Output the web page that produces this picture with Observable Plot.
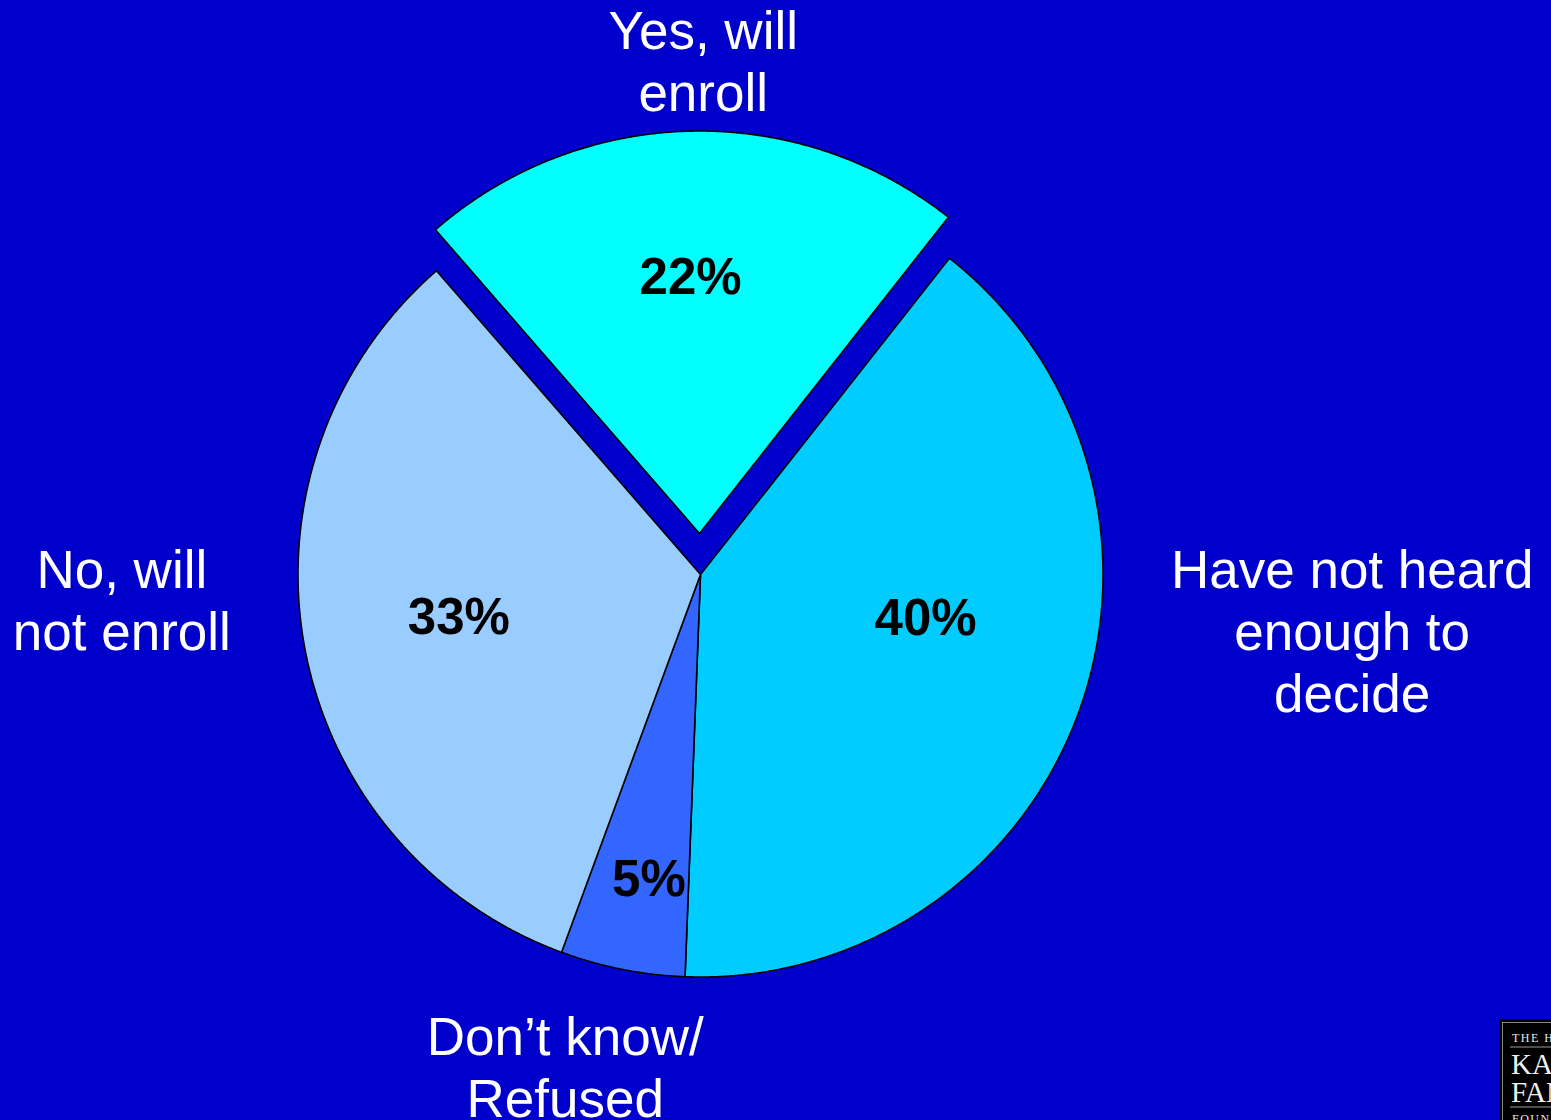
<!DOCTYPE html>
<html>
<head>
<meta charset="utf-8">
<script src="https://cdn.jsdelivr.net/npm/d3@7"></script>
<script src="https://cdn.jsdelivr.net/npm/@observablehq/plot@0.6"></script>
<style>
  html, body { margin: 0; padding: 0; background: #0000CC; overflow: hidden; width: 1551px; height: 1120px; }
  #chart { position: absolute; left: 0; top: 0; }
  #logo { position: absolute; left: 1499px; top: 1019px; width: 150px; height: 140px; overflow: hidden; }
</style>
</head>
<body>
<div id="chart"></div>
<div id="logo">
  <svg width="150" height="140" xmlns="http://www.w3.org/2000/svg">
    <rect x="0" y="0" width="150" height="140" fill="#000"/>
    <rect x="3.5" y="3.5" width="160" height="160" fill="none" stroke="#8a8a8a" stroke-width="1"/>
    <text x="13" y="23" fill="#e8e8e8" font-family="Liberation Serif, serif" font-size="12" letter-spacing="1.5">THE HENRY J.</text>
    <line x1="11" x2="150" y1="28" y2="28" stroke="#9a9a9a" stroke-width="1"/>
    <text x="12" y="55" fill="#f0f0f0" font-family="Liberation Serif, serif" font-size="29">KAISER</text>
    <text x="12" y="83" fill="#f0f0f0" font-family="Liberation Serif, serif" font-size="29">FAMILY</text>
    <line x1="11" x2="150" y1="88" y2="88" stroke="#9a9a9a" stroke-width="1"/>
    <text x="13" y="104" fill="#e8e8e8" font-family="Liberation Serif, serif" font-size="12" letter-spacing="1.5">FOUNDATION</text>
  </svg>
</div>
<script>
// ---------- data ----------
const categories = ["Yes, will\nenroll", "Have not heard\nenough to\ndecide", "Don\u2019t know/\nRefused", "No, will\nnot enroll"];
const values = [22, 40, 5, 33];
const colors = ["#00FFFF", "#00CCFF", "#3366FF", "#99CCFF"];
const explodedSlice = [true, false, false, false];

// ---------- layout (style) ----------
const W = 1551, H = 1120;
const R = 402.5;          // pie radius in px
const CX = 700, CY = 574; // pie centre in px
const startDeg = -41;     // first slice start, clockwise from 12 o'clock
const explodePx = 41;
// percentage labels: angle shift from slice mid-angle (deg) and radius (fraction of R)
const pctLayout = [{dA: -0.6, r: 0.635}, {dA: -9, r: 0.57}, {dA: -1.6, r: 0.768}, {dA: 0.2, r: 0.61}];
// category labels: polar position about pie centre (deg, fraction of R)
const catLayout = [{a: 0.3, r: 1.279}, {a: 94.9, r: 1.625}, {a: 195.4, r: 1.266}, {a: 267.6, r: 1.439}];

const rad = d => d * Math.PI / 180;
const start = rad(startDeg);
const arcs = d3.pie().sort(null).startAngle(start).endAngle(start + 2 * Math.PI)(values);
const explode = explodePx / R;

const slices = arcs.map((a, i) => {
  const mid = (a.startAngle + a.endAngle) / 2;
  const ox = explodedSlice[i] ? explode * Math.sin(mid) : 0;
  const oy = explodedSlice[i] ? explode * Math.cos(mid) : 0;
  const pts = [{x: ox, y: oy}];
  const n = Math.max(2, Math.ceil((a.endAngle - a.startAngle) / rad(0.25)));
  for (let k = 0; k <= n; k++) {
    const t = a.startAngle + (a.endAngle - a.startAngle) * k / n;
    pts.push({x: ox + Math.sin(t), y: oy + Math.cos(t)});
  }
  pts.push({x: ox, y: oy});
  const lm = mid + rad(pctLayout[i].dA);
  return {
    pts, color: colors[i], ox, oy,
    pct: {x: ox + pctLayout[i].r * Math.sin(lm), y: oy + pctLayout[i].r * Math.cos(lm), text: values[i] + "%"},
    cat: {x: catLayout[i].r * Math.sin(rad(catLayout[i].a)), y: catLayout[i].r * Math.cos(rad(catLayout[i].a)), text: categories[i]}
  };
});

const font = "Liberation Sans, Arial, Helvetica, sans-serif";

const plot = Plot.plot({
  width: W,
  height: H,
  margin: 0,
  style: {background: "#0000CC", overflow: "visible"},
  x: {domain: [-CX / R, (W - CX) / R], range: [0, W], axis: null},
  y: {domain: [-(H - CY) / R, CY / R], range: [H, 0], axis: null},
  marks: [
    ...slices.map(s => Plot.line(s.pts, {
      x: "x", y: "y", fill: s.color, stroke: "#000", strokeWidth: 1.6,
      strokeLinejoin: "miter", strokeLinecap: "butt", curve: "linear"
    })),
    Plot.text(slices.map(s => s.pct), {
      x: "x", y: "y", text: "text", fill: "#000", fontSize: 51, fontWeight: "bold",
      fontFamily: font, textAnchor: "middle", lineAnchor: "middle"
    }),
    Plot.text(slices.map(s => s.cat), {
      x: "x", y: "y", text: "text", fill: "#fff", fontSize: 53, lineHeight: 62 / 53,
      fontFamily: font, textAnchor: "middle", lineAnchor: "middle"
    })
  ]
});
document.getElementById("chart").appendChild(plot);
</script>
</body>
</html>
